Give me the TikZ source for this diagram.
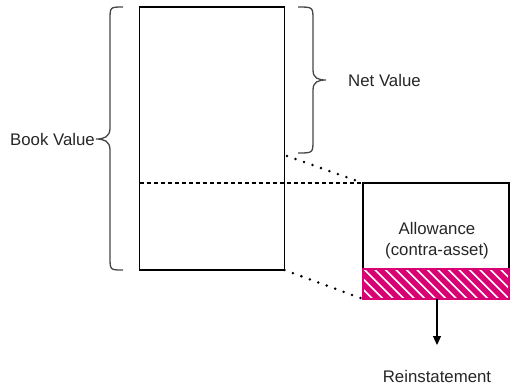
\documentclass[tikz,border=0pt]{standalone}
\usepackage{fontspec}
\setmainfont{Liberation Sans}
\usetikzlibrary{arrows.meta}
\definecolor{hatchpink}{RGB}{216,0,115}
\definecolor{bracegray}{RGB}{70,70,70}
\begin{document}
\begin{tikzpicture}[x=1pt,y=-1pt,
  box/.style={draw=black,line width=1.3pt,rectangle,inner sep=0pt,outer sep=0pt},
  lbl/.style={font=\fontsize{16.8}{21}\selectfont,text=black!85,inner sep=0pt},
  brace/.style={draw=bracegray,line width=1.3pt},
  dotline/.style={line width=2.8pt,dash pattern=on 0pt off 9pt,line cap=round},
  dashline/.style={line width=1.2pt,dash pattern=on 4pt off 3pt}]
\useasboundingbox (0,0) rectangle (510,386);
% main rectangles
\node[box,minimum width=145pt,minimum height=263pt] (lrect) at (212,138.5) {};
\node[box,minimum width=146pt,minimum height=116pt] (rbox) at (436,241) {};
% hatched allowance band
\node[rectangle,inner sep=0pt,outer sep=0pt,minimum width=146pt,minimum height=30pt] (hatch) at (436,284) {};
\begin{scope}
  \clip (hatch.north west) rectangle (hatch.south east);
  \foreach \i in {-4,...,16} {
    \draw[hatchpink,line width=5.5pt] (363+\i*10.5-20,264) -- (363+\i*10.5+20,304);
  }
\end{scope}
\draw[hatchpink,line width=2pt] (hatch.north west) rectangle (hatch.south east);
% connectors
\coordinate (dashstart) at (lrect.west |- rbox.north);
\coordinate (dottop) at (287,156);
\draw[dashline] (dashstart) -- (rbox.north west);
\draw[dotline] (dottop) -- (rbox.north west);
\draw[dotline] (lrect.south east) -- (hatch.south west);
% braces
\path[brace] (123,7) .. controls (110,7) .. (110,20) -- (110,128)
  .. controls (110,137) and (104,139) .. (96,139)
  .. controls (104,139) and (110,141) .. (110,150) -- (110,257)
  .. controls (110,270) .. (123,270);
\path[brace] (298,7) .. controls (313,7) .. (313,20) -- (313,70)
  .. controls (313,78) and (318,80) .. (326,80)
  .. controls (318,80) and (313,82) .. (313,90) -- (313,140)
  .. controls (313,153) .. (298,153);
% labels
\node[lbl,anchor=east] (book) at (95,139) {Book Value};
\node[lbl,anchor=west] (net) at (348,80) {Net Value};
\node[lbl,align=center] (allow) at (437,241) {Allowance\\(contra-asset)};
\node[lbl] (rein) at (437,376) {Reinstatement};
% arrow
\coordinate (arrowend) at (437,345);
\draw[line width=1.2pt,-{Triangle[length=9pt,width=8pt]}] (hatch.south) ++(1,0) -- (arrowend);
\end{tikzpicture}
\end{document}
